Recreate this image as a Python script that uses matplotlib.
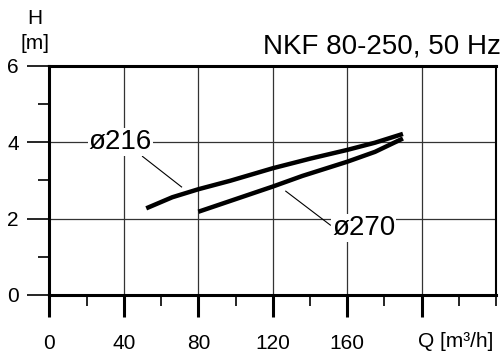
import matplotlib.pyplot as plt
from matplotlib.ticker import MultipleLocator

plt.rcParams['font.family'] = ['Liberation Sans', 'DejaVu Sans']

# pump curves
q_216 = [52, 66, 80, 97, 120, 140, 160, 175, 190]
h_216 = [2.27, 2.56, 2.77, 2.99, 3.32, 3.57, 3.80, 3.99, 4.22]
q_270 = [80, 100, 120, 136, 160, 175, 190]
h_270 = [2.18, 2.51, 2.84, 3.12, 3.49, 3.75, 4.10]

x_ticks = [0, 40, 80, 120, 160, 200]
x_labels = ['0', '40', '80', '120', '160', '']
y_ticks = [0, 2, 4, 6]

fig = plt.figure(figsize=(5.03, 3.54), dpi=100)
ax = fig.add_axes([0.0984, 0.1667, 0.8876, 0.647])

ax.plot(q_216, h_216, color='black', lw=3.2, solid_capstyle='butt', zorder=4)
ax.plot(q_270, h_270, color='black', lw=3.2, solid_capstyle='butt', zorder=4)

ax.set_xlim(0, 240)
ax.set_ylim(0, 6)
ax.set_xticks(x_ticks)
ax.set_xticklabels(x_labels)
ax.set_yticks(y_ticks)
ax.xaxis.set_minor_locator(MultipleLocator(20))
ax.yaxis.set_minor_locator(MultipleLocator(1))
ax.grid(True, which='major', color='#333333', lw=0.9)

for side in ['left', 'bottom', 'top']:
    ax.spines[side].set_linewidth(2.2)
ax.spines['right'].set_linewidth(1.5)

ax.tick_params(axis='x', which='major', length=16, width=2.2, labelsize=15, pad=12)
ax.tick_params(axis='x', which='minor', length=8, width=1.2)
ax.tick_params(axis='y', which='major', length=16, width=1.2, labelsize=15, pad=6)
ax.tick_params(axis='y', which='minor', length=8, width=1.2)

# curve labels with leader lines
ax.plot([50, 71], [3.63, 2.83], color='black', lw=0.8, zorder=3)
ax.text(38, 4.0, 'ø216', fontsize=20, ha='center', va='center', zorder=5,
        bbox=dict(facecolor='white', edgecolor='none', pad=0.5))
ax.plot([127, 151], [2.72, 1.83], color='black', lw=0.8, zorder=3)
ax.text(169, 1.76, 'ø270', fontsize=20, ha='center', va='center', zorder=5,
        bbox=dict(facecolor='white', edgecolor='none', pad=0.5))

fig.text(0.995, 0.868, 'NKF 80-250, 50 Hz', fontsize=20, ha='right', va='center')
fig.text(0.07, 0.949, 'H', fontsize=15, ha='center', va='center')
fig.text(0.07, 0.876, '[m]', fontsize=15, ha='center', va='center')
fig.text(0.905, 0.034, 'Q [m³/h]', fontsize=15, ha='center', va='center')

fig.savefig('out.png', dpi=100)
